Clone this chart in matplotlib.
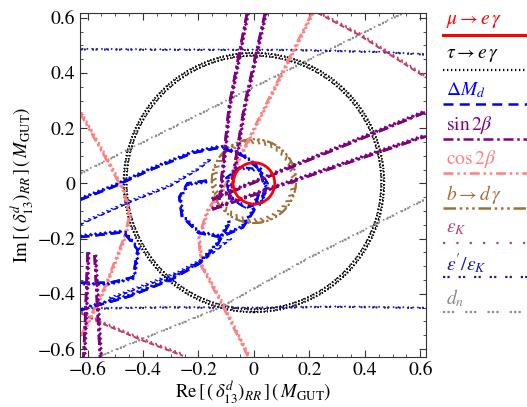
import numpy as np
import matplotlib
matplotlib.use("Agg")
import matplotlib.pyplot as plt
from matplotlib import patheffects
from matplotlib.patches import Circle
from matplotlib.lines import Line2D
from matplotlib.ticker import MultipleLocator

plt.rcParams['font.family'] = 'STIXGeneral'
plt.rcParams['mathtext.fontset'] = 'stix'

# constraint colours
c_meg = '#ff0000'
c_teg = '#000000'
c_dmd = '#0000ff'
c_s2b = '#800080'
c_c2b = '#ff8080'
c_bdg = '#a0703a'
c_epk = '#c0406a'
c_epp = '#1a1a9a'
c_dn = '#8a8a8a'

# circles: (centre x, centre y, radius)
meg_circle = (0.0, 0.0, 0.075)
teg_circles = [(0.0, 0.003, 0.460), (0.0, 0.003, 0.470)]
bdg_circles = [(0.0, 0.008, 0.152)]

# d_n
dn_up_x = [-0.625, -0.13, 0.54]
dn_up_y = [0.035, 0.283, 0.617]
dn_lo_x = [-0.55, -0.12, 0.2, 0.62]
dn_lo_y = [-0.625, -0.45, -0.27, -0.058]

# eps'/eps_K
epp_up_x = [-0.625, -0.2, 0.15, 0.45, 0.62]
epp_up_y = [0.485, 0.483, 0.482, 0.475, 0.466]
epp_lo_x = [-0.625, -0.3, 0.0, 0.3, 0.62]
epp_lo_y = [-0.455, -0.450, -0.452, -0.448, -0.452]

# eps_K
epk_up_x = [0.23, 0.38, 0.50, 0.62]
epk_up_y = [0.617, 0.537, 0.46, 0.383]
epk_lo_x = [-0.625, -0.555, -0.40, -0.256]
epk_lo_y = [-0.47, -0.505, -0.57, -0.625]

# sin 2beta
s2b_a_x = [-0.025, -0.09, -0.125]
s2b_a_y = [0.617, 0.28, -0.06]
s2b_b_x = [0.04, -0.035, -0.09]
s2b_b_y = [0.617, 0.28, -0.06]
s2b_c_x = [-0.15, 0.083, 0.35, 0.62]
s2b_c_y = [-0.06, 0.037, 0.146, 0.258]
s2b_d_x = [-0.15, 0.083, 0.62]
s2b_d_y = [-0.095, -0.013, 0.17]
s2b_e_x = [-0.60, -0.607, -0.615]
s2b_e_y = [-0.25, -0.45, -0.63]
s2b_f_x = [-0.575, -0.565, -0.555]
s2b_f_y = [-0.26, -0.45, -0.63]

# cos 2beta
c2b_l_x = [-0.627, -0.54, -0.47, -0.45, -0.47, -0.54, -0.627]
c2b_l_y = [0.254, 0.10, -0.03, -0.12, -0.20, -0.38, -0.558]
c2b_r_x = [0.209, 0.0, -0.10, -0.17, -0.20, -0.19, -0.12, -0.02]
c2b_r_y = [0.617, 0.20, 0.0, -0.10, -0.20, -0.30, -0.43, -0.63]

# Delta M_d
dmd_1_x = [-0.627, -0.5, -0.375, -0.22, -0.12, -0.04, 0.02, 0.04, 0.02]
dmd_1_y = [-0.06, -0.01, 0.048, 0.11, 0.13, 0.10, 0.05, -0.02, -0.08]
dmd_2_x = [-0.627, -0.45, -0.30, -0.20, -0.15]
dmd_2_y = [-0.15, -0.07, -0.01, 0.05, 0.09]
dmd_3_x = [-0.17, -0.24, -0.27, -0.26, -0.20, -0.12, -0.04, 0.0, 0.02]
dmd_3_y = [0.01, 0.0, -0.05, -0.12, -0.18, -0.195, -0.16, -0.10, -0.03]
dmd_4_x = [-0.627, -0.47, -0.42, -0.436, -0.52, -0.627]
dmd_4_y = [-0.195, -0.177, -0.24, -0.34, -0.36, -0.36]
dmd_5_x = [-0.05, -0.10, -0.09, -0.03, 0.03, 0.05, 0.02, -0.05]
dmd_5_y = [0.06, 0.02, -0.05, -0.09, -0.07, 0.0, 0.05, 0.06]
dmd_6_x = [-0.627, -0.45, -0.30, -0.195, -0.13, -0.08]
dmd_6_y = [-0.46, -0.41, -0.35, -0.29, -0.22, -0.13]
dmd_7_x = [-0.52, -0.27, -0.17, -0.08]
dmd_7_y = [-0.42, -0.325, -0.27, -0.20]

legend_labels = [r'$\mu \to e\,\gamma$', r'$\tau \to e\,\gamma$', r'$\Delta M_d$',
                 r'$\sin 2\beta$', r'$\cos 2\beta$', r'$b \to d\,\gamma$',
                 r'$\epsilon_K$', r"$\epsilon'/\epsilon_K$", r'$d_n$']

# dash patterns
ls_meg = '-'
ls_teg = (0, (0.6, 1.2))
ls_dmd = (0, (4, 2.5))
ls_s2b = (0, (4, 1.5, 1, 1.5))
ls_c2b = (0, (4, 1.5, 1, 1.5, 1, 1.5))
ls_bdg = (0, (5, 1.5, 1, 1.5, 1, 1.5, 1, 1.5))
ls_epk = (0, (1, 5))
ls_epp = (0, (1, 1, 1, 4))
ls_dn = (0, (1, 1, 1, 1, 1, 5))

legend_styles = [(c_meg, ls_meg, 2.2), (c_teg, ls_teg, 1.6), (c_dmd, ls_dmd, 1.8),
                 (c_s2b, ls_s2b, 1.8), (c_c2b, ls_c2b, 1.8), (c_bdg, ls_bdg, 1.8),
                 (c_epk, ls_epk, 1.6), (c_epp, ls_epp, 1.6), (c_dn, ls_dn, 1.6)]

fig = plt.figure(figsize=(5.27, 4.07), dpi=100)
ax = fig.add_axes([0.152, 0.123, 0.656, 0.845])


def ticked(angle=135, length=0.7, spacing=3.5):
    return [patheffects.withTickedStroke(angle=angle, spacing=spacing, length=length),
            patheffects.Normal()]


def curve(x, y, color, ls, lw=1.3, angle=135):
    ax.plot(x, y, color=color, ls=ls, lw=lw, path_effects=ticked(angle))


# d_n
curve(dn_up_x, dn_up_y, c_dn, ls_dn, 1.2)
curve(dn_lo_x, dn_lo_y, c_dn, ls_dn, 1.2)
# eps'/eps_K
curve(epp_up_x, epp_up_y, c_epp, ls_epp, 1.2)
curve(epp_lo_x, epp_lo_y, c_epp, ls_epp, 1.2)
# eps_K
curve(epk_up_x, epk_up_y, c_epk, (0, (3, 2)), 1.2)
curve(epk_lo_x, epk_lo_y, c_epk, (0, (3, 2)), 1.2)
# tau -> e gamma
for cx, cy, r in teg_circles:
    ax.add_patch(Circle((cx, cy), r, fill=False, ec=c_teg, ls=ls_teg, lw=1.3,
                        path_effects=ticked(120, 0.6)))
# cos 2beta
curve(c2b_l_x, c2b_l_y, c_c2b, ls_c2b, 1.6)
curve(c2b_r_x, c2b_r_y, c_c2b, ls_c2b, 1.6)
# Delta M_d
curve(dmd_1_x, dmd_1_y, c_dmd, ls_dmd, 1.7)
curve(dmd_2_x, dmd_2_y, c_dmd, (0, (3, 3)), 0.9)
curve(dmd_3_x, dmd_3_y, c_dmd, ls_dmd, 1.7)
curve(dmd_4_x, dmd_4_y, c_dmd, ls_dmd, 1.7)
curve(dmd_5_x, dmd_5_y, c_dmd, ls_dmd, 1.3)
curve(dmd_6_x, dmd_6_y, c_dmd, ls_dmd, 1.7)
curve(dmd_7_x, dmd_7_y, c_dmd, (0, (3, 3)), 0.9)
# b -> d gamma
for cx, cy, r in bdg_circles:
    ax.add_patch(Circle((cx, cy), r, fill=False, ec=c_bdg, ls=ls_bdg, lw=1.4,
                        path_effects=ticked(120, 0.8, 5)))
# sin 2beta
for xs, ys in [(s2b_a_x, s2b_a_y), (s2b_b_x, s2b_b_y), (s2b_c_x, s2b_c_y),
               (s2b_d_x, s2b_d_y), (s2b_e_x, s2b_e_y), (s2b_f_x, s2b_f_y)]:
    curve(xs, ys, c_s2b, ls_s2b, 1.8)
# mu -> e gamma
cx, cy, r = meg_circle
ax.add_patch(Circle((cx, cy), r, fill=False, ec=c_meg, lw=2.0, zorder=5))

ax.set_xlim(-0.627, 0.62)
ax.set_ylim(-0.629, 0.617)
ax.xaxis.set_major_locator(MultipleLocator(0.2))
ax.yaxis.set_major_locator(MultipleLocator(0.2))
ax.xaxis.set_minor_locator(MultipleLocator(0.05))
ax.yaxis.set_minor_locator(MultipleLocator(0.05))
ax.tick_params(which='both', direction='in', top=True, right=True, labelsize=14,
               color='#333333')
ax.tick_params(which='major', length=5)
ax.tick_params(which='minor', length=2.5)
fmt = plt.FuncFormatter(lambda v, p: '0' if abs(v) < 1e-9 else f'{v:.1f}'.replace('-', '\u2212'))
ax.xaxis.set_major_formatter(fmt)
ax.yaxis.set_major_formatter(fmt)
for s in ax.spines.values():
    s.set_color('#333333')
ax.set_xlabel(r'Re$\,[\,(\,\delta^d_{13})_{RR}\,]\,(\,M_{\rm GUT})$', fontsize=13.5, labelpad=0)
ax.set_ylabel(r'Im$\,[\,(\,\delta^d_{13})_{RR}\,]\,(\,M_{\rm GUT})$', fontsize=13.5, labelpad=1)

# legend column to the right of the axes
W, H = 527.0, 407.0
for i, (lab, (col, ls, lw)) in enumerate(zip(legend_labels, legend_styles)):
    ty = 21 + 34.6 * i
    fig.text(446 / W, 1 - ty / H, lab, color=col, fontsize=14, va='center', ha='left')
    fig.add_artist(Line2D([443 / W, 1.0], [1 - (ty + 14) / H] * 2, color=col, ls=ls, lw=lw,
                          transform=fig.transFigure))

fig.savefig('out.png', dpi=100)
